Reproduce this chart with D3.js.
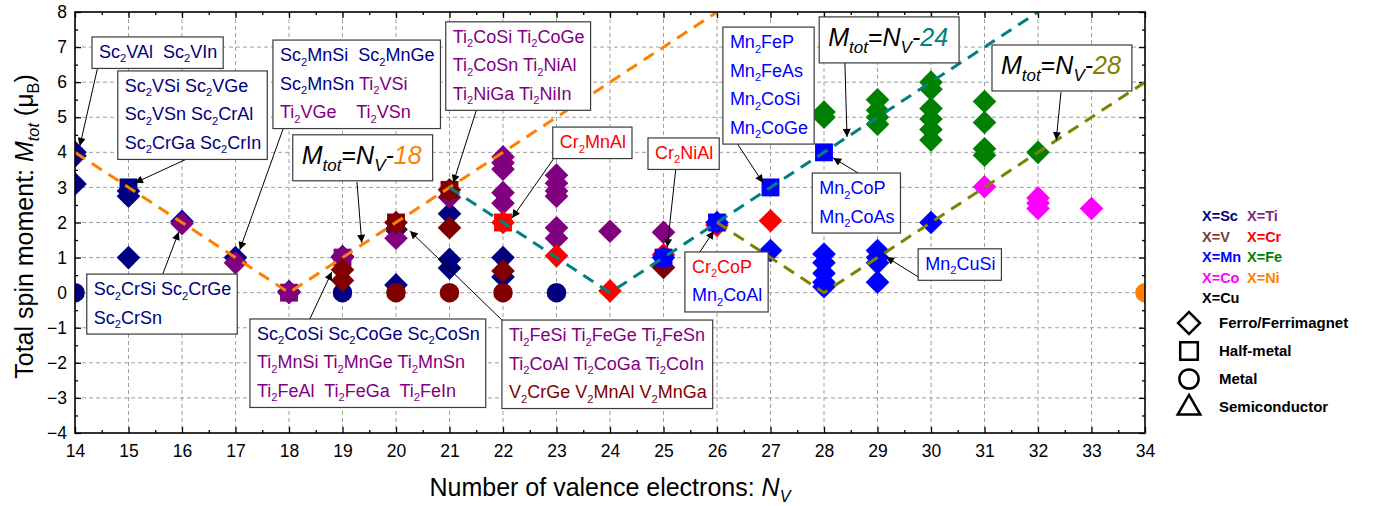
<!DOCTYPE html>
<html>
<head>
<meta charset="utf-8">
<script src="https://cdn.jsdelivr.net/npm/d3@7"></script>
<style>
  body { margin: 0; background: #fff; }
  svg { font-family: "Liberation Sans", Arial, sans-serif; }
  text { white-space: pre; }
</style>
</head>
<body>
<svg id="chart" width="1381" height="506"></svg>
<script>
// ---- Colours per X element ----
const SC = "#000080", TI = "#800080", VV = "#800000", CR = "#ff0000",
      MN = "#0000ff", FE = "#008000", CO = "#ff00ff", NI = "#ff8000", CU = "#000000";

// ---- Axis ticks ----
const nvTicks = [14, 15, 16, 17, 18, 19, 20, 21, 22, 23, 24, 25, 26, 27, 28, 29, 30, 31, 32, 33, 34];
const mTicks = [-4, -3, -2, -1, 0, 1, 2, 3, 4, 5, 6, 7, 8];

// ---- Compounds X2YZ: [N_V, M_tot, type]  F = ferro/ferrimagnet, H = half-metal, M = metal ----
const scandium = [[14, 4.0, "F"], [14, 3.9, "F"], [14, 3.1, "F"], [14, 0, "M"],
  [15, 2.9, "F"], [15, 2.75, "F"], [15, 3.0, "H"], [15, 1.0, "F"], [16, 2.03, "F"],
  [17, 1.0, "F"], [18, 0.03, "F"], [19, 1.03, "F"], [19, 0, "M"], [20, 1.8, "F"],
  [20, 0.22, "F"], [21, 2.25, "F"], [21, 0.95, "F"], [21, 0.7, "F"], [22, 1.0, "F"],
  [22, 0.45, "F"], [23, 0, "M"]];
const titanium = [[16, 1.97, "F"], [17, 0.85, "F"], [18, 0, "F"], [18, 0, "H"],
  [19, 1.0, "F"], [19, 1.0, "H"], [20, 1.55, "F"], [21, 2.72, "F"], [22, 3.87, "F"],
  [22, 3.7, "F"], [22, 3.52, "F"], [22, 2.85, "F"], [22, 2.55, "F"], [23, 3.35, "F"],
  [23, 3.12, "F"], [23, 2.9, "F"], [23, 2.75, "F"], [23, 1.85, "F"], [23, 1.55, "F"],
  [24, 1.75, "F"], [25, 1.72, "F"]];
const vanadium = [[19, 0.65, "F"], [19, 0.35, "F"], [20, 2.0, "F"], [20, 2.0, "H"],
  [20, 0, "M"], [21, 2.93, "F"], [21, 2.93, "H"], [21, 1.85, "F"], [21, 0, "M"],
  [22, 0.62, "F"], [22, 0, "M"], [25, 0.72, "F"]];
const chromium = [[22, 2.0, "F"], [22, 2.0, "H"], [23, 1.05, "F"], [24, 0.05, "F"],
  [25, 1.08, "F"], [26, 1.92, "F"], [27, 2.05, "F"]];
const manganese = [[25, 1.0, "F"], [25, 1.0, "H"], [26, 2.0, "F"], [26, 2.0, "H"],
  [27, 3.0, "H"], [27, 1.2, "F"], [28, 4.0, "H"], [28, 1.1, "F"], [28, 0.85, "F"],
  [28, 0.55, "F"], [28, 0.3, "F"], [28, 0.17, "F"], [29, 1.2, "F"], [29, 1.0, "F"],
  [29, 0.85, "F"], [29, 0.3, "F"], [30, 2.0, "F"]];
const iron = [[28, 5.15, "F"], [28, 5.0, "F"], [29, 5.5, "F"], [29, 5.2, "F"],
  [29, 5.0, "F"], [29, 4.8, "F"], [30, 6.0, "F"], [30, 5.8, "F"], [30, 5.25, "F"],
  [30, 4.95, "F"], [30, 4.65, "F"], [30, 4.35, "F"], [31, 5.45, "F"], [31, 4.85, "F"],
  [31, 4.1, "F"], [31, 3.92, "F"], [32, 4.0, "F"]];
const cobalt = [[31, 3.02, "F"], [32, 2.7, "F"], [32, 2.55, "F"], [32, 2.4, "F"], [33, 2.4, "F"]];
const nickel = [[34, 0, "M"]];
const copper = [];

// ---- Slater-Pauling rules M_tot = |N_V - n| ----
const rule18 = [[14, 4], [18, 0], [26, 8]];
const rule24 = [[21, 3], [24, 0], [32, 8]];
const rule28 = [[26, 2], [28, 0], [34, 6]];

// ---- Legend entries ----
const elementLegend = [["X=Sc", SC], ["X=Ti", "#7f267f"], ["X=V", "#7f3a35"], ["X=Cr", CR],
  ["X=Mn", MN], ["X=Fe", FE], ["X=Co", CO], ["X=Ni", NI], ["X=Cu", CU]];
const shapeLegend = [["F", "Ferro/Ferrimagnet"], ["H", "Half-metal"], ["M", "Metal"], ["S", "Semiconductor"]];

// ---- Labelled groups of compounds (positions in data units) ----
const labels = [
  { at: [14.318, 7.289], lines: [[["Sc{2}VAl  Sc{2}VIn", SC]]], arrow: [[14.43, 6.46], [14.09, 4.18]] },
  { at: [14.80, 6.32], lines: [[["Sc{2}VSi Sc{2}VGe", SC]], [["Sc{2}VSn Sc{2}CrAl", SC]], [["Sc{2}CrGa Sc{2}CrIn", SC]]], arrow: [[16.09, 3.81], [15.12, 3.13]] },
  { at: [17.70, 7.20], lines: [[["Sc{2}MnSi  Sc{2}MnGe", SC]], [["Sc{2}MnSn ", SC], ["Ti{2}VSi", TI]], [["Ti{2}VGe    Ti{2}VSn", TI]]], arrow: [[17.89, 4.67], [17.08, 1.22]] },
  { at: [20.93, 7.72], lines: [[["Ti{2}CoSi Ti{2}CoGe", TI]], [["Ti{2}CoSn Ti{2}NiAl", TI]], [["Ti{2}NiGa Ti{2}NiIn", TI]]], arrow: [[21.51, 5.24], [21.07, 3.13]] },
  { at: [22.93, 4.72], lines: [[["Cr{2}MnAl", CR]]], arrow: [[22.97, 3.87], [22.17, 2.13]] },
  { at: [24.71, 4.41], lines: [[["Cr{2}NiAl", CR]]], arrow: [[25.23, 3.53], [25.07, 1.30]] },
  { at: [26.11, 7.57], lines: [[["Mn{2}FeP", MN]], [["Mn{2}FeAs", MN]], [["Mn{2}CoSi", MN]], [["Mn{2}CoGe", MN]]], arrow: [[26.37, 4.27], [26.86, 3.13]] },
  { at: [27.78, 3.41], lines: [[["Mn{2}CoP", MN]], [["Mn{2}CoAs", MN]]], arrow: [[28.64, 3.41], [28.17, 3.84]] },
  { at: [29.76, 1.25], lines: [[["Mn{2}CuSi", MN]]], arrow: [[29.76, 0.45], [29.16, 1.02]] },
  { at: [14.22, 0.53], lines: [[["Sc{2}CrSi Sc{2}CrGe", SC]], [["Sc{2}CrSn", SC]]], arrow: [[15.64, 0.53], [15.94, 1.73]] },
  { at: [17.27, -0.75], lines: [[["Sc{2}CoSi Sc{2}CoGe Sc{2}CoSn", SC]], [["Ti{2}MnSi Ti{2}MnGe Ti{2}MnSn", TI]], [["Ti{2}FeAl  Ti{2}FeGa  Ti{2}FeIn", TI]]], arrow: [[18.39, -0.75], [18.80, 0.59]] },
  { at: [21.98, -0.78], lines: [[["Ti{2}FeSi Ti{2}FeGe Ti{2}FeSn", TI]], [["Ti{2}CoAl Ti{2}CoGa Ti{2}CoIn", TI]], [["V{2}CrGe V{2}MnAl V{2}MnGa", VV]]], arrow: [[21.98, -0.78], [20.26, 1.76]] },
  { at: [25.40, 1.16], lines: [[["Cr{2}CoP", CR]], [["Mn{2}CoAl", MN]]], arrow: [[25.68, 1.16], [25.94, 1.76]] }
];
const ruleLabels = [
  { at: [18.07, 4.50], n: "18", color: NI, arrow: [[19.27, 3.16], [19.36, 1.42]] },
  { at: [27.91, 7.86], n: "24", color: "#008080", arrow: [[28.39, 6.58], [28.43, 4.44]] },
  { at: [31.14, 7.06], n: "28", color: "#808000", arrow: [[32.43, 5.72], [32.34, 4.35]] }
];

// ---- Layout ----
const svg = d3.select("#chart");
const x = d3.scaleLinear().domain([14, 34]).range([75, 1145]);
const y = d3.scaleLinear().domain([-4, 8]).range([433, 12]);
const [x0, x1] = x.range(), [y1, y0] = y.range();

svg.append("defs").append("clipPath").attr("id", "plotClip")
  .append("rect").attr("x", x0).attr("y", y0).attr("width", x1 - x0).attr("height", y1 - y0);

const arrowHead = svg.select("defs").append("marker")
  .attr("id", "head").attr("markerUnits", "userSpaceOnUse")
  .attr("viewBox", "0 0 10 10").attr("refX", 10).attr("refY", 5)
  .attr("markerWidth", 10).attr("markerHeight", 8).attr("orient", "auto");
arrowHead.append("path").attr("d", "M0,0 L10,5 L0,10 Z").attr("fill", "#000");

// Grid
const grid = svg.append("g").attr("stroke", "#a0a0a0").attr("stroke-width", 1).attr("stroke-dasharray", "4,3");
grid.selectAll("line.gx").data(nvTicks.slice(1, -1)).join("line")
  .attr("x1", d => x(d)).attr("x2", d => x(d)).attr("y1", y0).attr("y2", y1);
grid.selectAll("line.gy").data(mTicks.slice(1, -1)).join("line")
  .attr("y1", d => y(d)).attr("y2", d => y(d)).attr("x1", x0).attr("x2", x1);

// Axes with inward ticks
const halfX = d3.range(14.5, 34, 1), halfY = d3.range(-3.5, 8, 1);
function styleAxis(g) { g.select(".domain").remove(); g.selectAll("line").attr("stroke", "#000").attr("stroke-width", 1.3); }
svg.append("g").attr("transform", `translate(0,${y1})`)
  .call(d3.axisBottom(x).tickValues(nvTicks).tickSize(-6).tickPadding(12).tickFormat(d3.format("d")))
  .call(styleAxis).call(g => g.selectAll("text").attr("font-size", 17.5).attr("font-family", "Liberation Sans, Arial").attr("fill", "#000"));
svg.append("g").attr("transform", `translate(0,${y1})`)
  .call(d3.axisBottom(x).tickValues(halfX).tickSize(-3).tickFormat("")).call(styleAxis);
svg.append("g").attr("transform", `translate(0,${y0})`)
  .call(d3.axisTop(x).tickValues(nvTicks).tickSize(-6).tickFormat("")).call(styleAxis);
svg.append("g").attr("transform", `translate(0,${y0})`)
  .call(d3.axisTop(x).tickValues(halfX).tickSize(-3).tickFormat("")).call(styleAxis);
svg.append("g").attr("transform", `translate(${x0},0)`)
  .call(d3.axisLeft(y).tickValues(mTicks).tickSize(-6).tickPadding(8).tickFormat(d3.format("d")))
  .call(styleAxis).call(g => g.selectAll("text").attr("font-size", 17.5).attr("font-family", "Liberation Sans, Arial").attr("fill", "#000"));
svg.append("g").attr("transform", `translate(${x0},0)`)
  .call(d3.axisLeft(y).tickValues(halfY).tickSize(-3).tickFormat("")).call(styleAxis);
svg.append("g").attr("transform", `translate(${x1},0)`)
  .call(d3.axisRight(y).tickValues(mTicks).tickSize(-6).tickFormat("")).call(styleAxis);
svg.append("g").attr("transform", `translate(${x1},0)`)
  .call(d3.axisRight(y).tickValues(halfY).tickSize(-3).tickFormat("")).call(styleAxis);

// Markers
const symbolOf = {
  F: d3.symbol(d3.symbolSquare, 280),
  H: d3.symbol(d3.symbolSquare, 320),
  M: d3.symbol(d3.symbolCircle, 300),
  S: d3.symbol(d3.symbolTriangle, 230)
};
const series = [[scandium, SC], [titanium, TI], [vanadium, VV], [chromium, CR], [manganese, MN],
  [iron, FE], [cobalt, CO], [nickel, NI], [copper, CU]];
const plot = svg.append("g").attr("clip-path", "url(#plotClip)");
series.forEach(([pts, col]) => {
  plot.append("g").selectAll("path").data(pts).join("path")
    .attr("d", d => symbolOf[d[2]]())
    .attr("transform", d => `translate(${x(d[0])},${y(d[1])})` + (d[2] === "F" ? " rotate(45)" : ""))
    .attr("fill", col);
});

// Rule lines
const line = d3.line().x(d => x(d[0])).y(d => y(d[1]));
[[rule18, NI], [rule24, "#008080"], [rule28, "#808000"]].forEach(([pts, col]) => {
  plot.append("path").attr("d", line(pts)).attr("fill", "none").attr("stroke", col)
    .attr("stroke-width", 3).attr("stroke-dasharray", "12,8");
});

// Frame
svg.append("rect").attr("x", x0).attr("y", y0).attr("width", x1 - x0).attr("height", y1 - y0)
  .attr("fill", "none").attr("stroke", "#000").attr("stroke-width", 1.6);

// Rich text: {..} marks a subscript
function rich(textSel, segments, size, subScale, subShift) {
  let shifted = false;
  segments.forEach(([str, col, italic]) => {
    str.split(/(\{[^}]*\})/).filter(s => s.length).forEach(p => {
      const sub = p.startsWith("{");
      const t = textSel.append("tspan").text(sub ? p.slice(1, -1) : p).attr("fill", col);
      if (italic) t.attr("font-style", "italic");
      if (sub) {
        t.attr("font-size", size * subScale);
        if (!shifted) t.attr("dy", subShift);
        shifted = true;
      } else if (shifted) {
        t.attr("dy", -subShift);
        shifted = false;
      }
    });
  });
}

function arrow(g, a) {
  g.append("line").attr("x1", x(a[0][0])).attr("y1", y(a[0][1]))
    .attr("x2", x(a[1][0])).attr("y2", y(a[1][1]))
    .attr("stroke", "#000").attr("stroke-width", 1).attr("marker-end", "url(#head)");
}

const notes = svg.append("g");
labels.forEach(lb => {
  const g = notes.append("g");
  arrow(g, lb.arrow);
  const bx = x(lb.at[0]), by = y(lb.at[1]);
  const rect = g.append("rect").attr("fill", "#fff").attr("stroke", "#3a3a3a").attr("stroke-width", 1.2);
  const fs = 18, lh = 28.5;
  let maxW = 0;
  lb.lines.forEach((segs, i) => {
    const t = g.append("text").attr("x", bx + 7).attr("y", by + 21 + i * lh)
      .attr("font-size", fs).attr("xml:space", "preserve");
    rich(t, segs, fs, 0.62, 4.5);
    maxW = Math.max(maxW, t.node().getComputedTextLength());
  });
  rect.attr("x", bx).attr("y", by).attr("width", maxW + 13).attr("height", lb.lines.length * lh + 3);
});

ruleLabels.forEach(r => {
  const g = notes.append("g");
  arrow(g, r.arrow);
  const bx = x(r.at[0]), by = y(r.at[1]);
  const rect = g.append("rect").attr("fill", "#fff").attr("stroke", "#3a3a3a").attr("stroke-width", 1.2);
  const t = g.append("text").attr("x", bx + 9).attr("y", by + 29).attr("font-size", 25);
  rich(t, [["M", "#000", true], ["{tot}", "#000", true], ["=", "#000"], ["N", "#000", true],
           ["{V}", "#000", true], ["-", "#000", true], [r.n, r.color, true]], 25, 0.68, 7);
  rect.attr("x", bx).attr("y", by).attr("width", t.node().getComputedTextLength() + 20).attr("height", 46);
});

// Axis titles
const yt = svg.append("text").attr("transform", `translate(33,${(y0 + y1) / 2 + 4}) rotate(-90)`)
  .attr("text-anchor", "middle").attr("font-size", 25);
rich(yt, [["Total spin moment: ", "#000"], ["M", "#000", true], ["{tot}", "#000", true], [" (μ", "#000"], ["{B}", "#000"], [")", "#000"]], 25, 0.65, 6);
const xt = svg.append("text").attr("x", (x0 + x1) / 2).attr("y", 496)
  .attr("text-anchor", "middle").attr("font-size", 25);
rich(xt, [["Number of valence electrons: ", "#000"], ["N", "#000", true], ["{V}", "#000", true]], 25, 0.65, 6);

// Legend
const leg = svg.append("g").attr("font-weight", "bold");
elementLegend.forEach(([txt, col], i) => {
  leg.append("text").attr("x", 1202 + (i % 2) * 45).attr("y", 221 + Math.floor(i / 2) * 20.6)
    .attr("font-size", 14.5).attr("fill", col).text(txt);
});
const legendSymbol = {
  F: d3.symbol(d3.symbolSquare, 240),
  H: d3.symbol(d3.symbolSquare, 310),
  M: d3.symbol(d3.symbolCircle, 290),
  S: d3.symbol(d3.symbolTriangle, 220)
};
shapeLegend.forEach(([k, txt], i) => {
  const cy = 323 + i * 28;
  leg.append("path").attr("d", legendSymbol[k]())
    .attr("transform", `translate(1189,${cy + (k === "S" ? 1 : 0)})` + (k === "F" ? " rotate(45)" : ""))
    .attr("fill", "none").attr("stroke", "#000").attr("stroke-width", 2.5);
  leg.append("text").attr("x", 1219).attr("y", cy + 5).attr("font-size", 15).attr("fill", "#000").text(txt);
});
</script>
</body>
</html>
